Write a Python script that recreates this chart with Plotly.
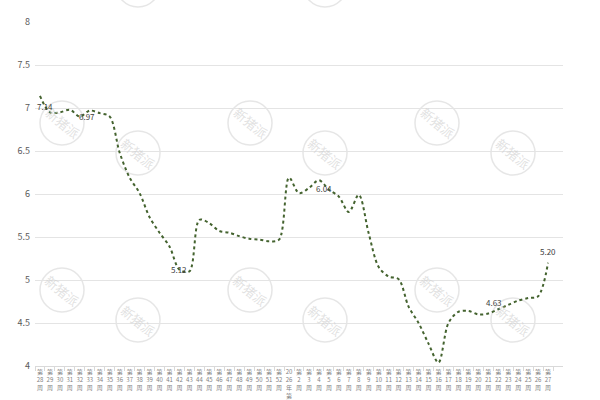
import re
import plotly.graph_objects as go

weeks = ["第28周", "第29周", "第30周", "第31周", "第32周", "第33周", "第34周", "第35周",
         "第36周", "第37周", "第38周", "第39周", "第40周", "第41周", "第42周", "第43周",
         "第44周", "第45周", "第46周", "第47周", "第48周", "第49周", "第50周", "第51周",
         "第52周", "2026年第1周", "第2周", "第3周", "第4周", "第5周", "第6周", "第7周",
         "第8周", "第9周", "第10周", "第11周", "第12周", "第13周", "第14周", "第15周",
         "第16周", "第17周", "第18周", "第19周", "第20周", "第21周", "第22周", "第23周",
         "第24周", "第25周", "第26周", "第27周"]
prices = [7.14, 6.95, 6.95, 6.98, 6.90, 6.97, 6.94, 6.90,
          6.48, 6.19, 6.01, 5.73, 5.55, 5.39, 5.12, 5.10,
          5.70, 5.66, 5.57, 5.55, 5.51, 5.48, 5.47, 5.45,
          5.47, 6.19, 6.01, 6.07, 6.16, 6.05, 5.97, 5.79,
          5.99, 5.54, 5.15, 5.04, 5.01, 4.69, 4.50, 4.26,
          4.04, 4.50, 4.63, 4.64, 4.60, 4.61, 4.66, 4.71,
          4.76, 4.79, 4.81, 5.20]
label_weeks = ["第28周", "第33周", "第42周", "第4周", "第21周", "第27周"]
label_values = [7.14, 6.97, 5.12, 6.04, 4.63, 5.20]
label_shift = [(5, -11), (-3, -6), (0, 0), (5, 2), (6, 9), (0, 11)]

y_ticks = [4, 4.5, 5, 5.5, 6, 6.5, 7, 7.5, 8]


def stack(lbl):
    parts = re.findall(r"\d+|\D", lbl)
    out = []
    for p in parts:
        if p.isdigit() and len(p) > 2:
            out += [p[i:i + 2] for i in range(0, len(p), 2)]
        else:
            out.append(p)
    return "<br>".join(out)


tick_text = [stack(w) for w in weeks]

fig = go.Figure()

# watermark
L, R, T, B = 35, 563, 22, 366
wm_centers = [(62, 123), (138, 153), (250, 123), (325, 153), (437, 123), (513, 153),
              (62, 290), (138, 320), (250, 290), (325, 320), (437, 290), (513, 320)]
wm_partial = [(138, -15), (325, -15)]
rad = 22
for cx, cy in wm_centers + wm_partial:
    fig.add_shape(type="circle", xref="paper", yref="paper",
                  x0=(cx - rad - L) / (R - L), x1=(cx + rad - L) / (R - L),
                  y0=(B - (cy + rad)) / (B - T), y1=(B - (cy - rad)) / (B - T),
                  line=dict(color="rgba(205,205,205,0.5)", width=1.5), layer="below")
for cx, cy in wm_centers:
    fig.add_annotation(xref="paper", yref="paper",
                       x=(cx - L) / (R - L), y=(B - cy) / (B - T),
                       xanchor="center", yanchor="middle",
                       text="新猪派", showarrow=False, textangle=40,
                       font=dict(size=13, color="rgba(205,205,205,0.6)", family="Noto Sans CJK SC"))

fig.add_trace(go.Scatter(
    x=weeks, y=prices, mode="lines",
    line=dict(color="#44632f", width=2, dash="dot", shape="spline", smoothing=0.9),
    hoverinfo="skip", showlegend=False,
))

for w, v, (dx, dy) in zip(label_weeks, label_values, label_shift):
    fig.add_annotation(x=w, y=v, text=f"{v:.2f}", showarrow=False,
                       xshift=dx, yshift=dy,
                       font=dict(size=8, color="#404040", family="Noto Sans CJK SC"))

fig.update_layout(
    width=600, height=400,
    margin=dict(l=L, r=600 - R, t=T, b=400 - B),
    paper_bgcolor="white", plot_bgcolor="white",
    template="none",
    font=dict(family="Noto Sans CJK SC", color="#595959"),
)
fig.update_xaxes(
    type="category", range=[-0.5, len(weeks) + 0.5],
    tickmode="array", tickvals=weeks, ticktext=tick_text,
    tickangle=0, tickfont=dict(size=6, color="#7f7f7f"),
    ticks="outside", tickson="boundaries", ticklen=4, tickcolor="#d9d9d9",
    showline=True, linecolor="#d9d9d9", linewidth=1,
    showgrid=False, zeroline=False, automargin=False,
)
fig.update_yaxes(
    range=[4, 8], tickvals=y_ticks, ticktext=[f"{v:g}" for v in y_ticks],
    tickfont=dict(size=9, color="#595959"),
    showgrid=True, gridcolor="#e4e4e4", gridwidth=1,
    zeroline=False, showline=False, ticks="", ticklabelstandoff=4, automargin=False,
)

fig.write_html("out.html")
